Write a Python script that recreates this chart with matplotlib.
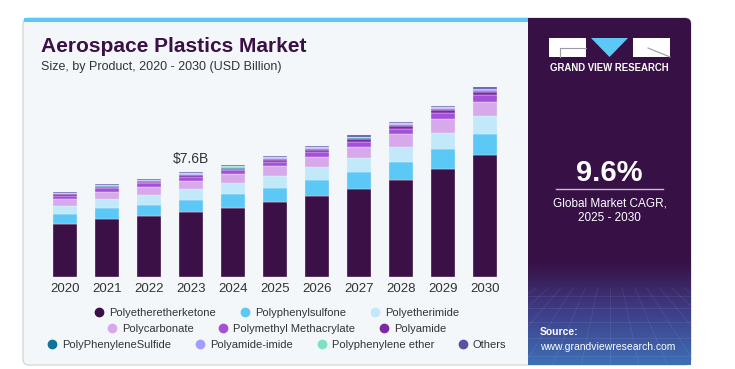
import matplotlib.pyplot as plt
import numpy as np
from matplotlib.patches import FancyBboxPatch, Rectangle, Polygon
from matplotlib.lines import Line2D
from matplotlib.colors import LinearSegmentedColormap

plt.rcParams['font.family'] = ['Liberation Sans', 'DejaVu Sans']

years = ['2020', '2021', '2022', '2023', '2024', '2025', '2026', '2027', '2028', '2029', '2030']

peek = [3.82, 4.20, 4.42, 4.73, 5.02, 5.45, 5.90, 6.41, 7.04, 7.87, 8.82]
ppsu = [0.73, 0.78, 0.84, 0.89, 0.97, 1.04, 1.13, 1.22, 1.33, 1.45, 1.57]
pei = [0.62, 0.66, 0.70, 0.75, 0.80, 0.86, 0.93, 1.00, 1.08, 1.16, 1.26]
pc = [0.51, 0.55, 0.58, 0.62, 0.66, 0.71, 0.77, 0.83, 0.90, 0.97, 1.04]
pmma = [0.22, 0.24, 0.26, 0.27, 0.29, 0.32, 0.34, 0.37, 0.41, 0.45, 0.50]
pa = [0.10, 0.11, 0.11, 0.12, 0.13, 0.14, 0.15, 0.16, 0.18, 0.20, 0.22]
pps = [0.04, 0.05, 0.05, 0.05, 0.06, 0.06, 0.07, 0.07, 0.08, 0.09, 0.10]
pai = [0.04, 0.05, 0.05, 0.06, 0.06, 0.06, 0.07, 0.08, 0.08, 0.09, 0.10]
ppe = [0.03, 0.03, 0.03, 0.03, 0.03, 0.04, 0.04, 0.04, 0.05, 0.05, 0.05]
others = [0.06, 0.06, 0.07, 0.08, 0.08, 0.08, 0.09, 0.10, 0.10, 0.11, 0.13]

labels = ['Polyetheretherketone', 'Polyphenylsulfone', 'Polyetherimide',
          'Polycarbonate', 'Polymethyl Methacrylate', 'Polyamide',
          'PolyPhenyleneSulfide', 'Polyamide-imide', 'Polyphenylene ether', 'Others']
series = [peek, ppsu, pei, pc, pmma, pa, pps, pai, ppe, others]
colors = ['#3a1046', '#5bc8f5', '#c2e9fa', '#d7a9ea', '#a550da', '#7b2aa3',
          '#10739a', '#a39dff', '#7fe0c6', '#5a50a6']

W, H = 735, 369
fig = plt.figure(figsize=(W / 100, H / 100), dpi=100)
fig.patch.set_facecolor('white')

# background / decoration layer in pixel coords
bg = fig.add_axes([0, 0, 1, 1], zorder=0)
bg.axis('off')

dark = '#371145'
bg.add_patch(FancyBboxPatch((23, 18), 668, 347, boxstyle='round,pad=0,rounding_size=6',
                            fc='#f3f7fa', ec='#cfcfcf', lw=0.8))
bg.add_patch(FancyBboxPatch((528, 18), 163, 347, boxstyle='round,pad=0,rounding_size=6',
                            fc=dark, ec='none'))
bg.add_patch(Rectangle((528, 18), 12, 347, fc=dark, ec='none'))
bg.add_patch(Rectangle((24, 18), 504, 3.5, fc='#5bc8f5', ec='none'))

# gradient at bottom of side panel
cmap = LinearSegmentedColormap.from_list('g', [dark, '#3f3f8a', '#3d6fb5'])
grad = np.linspace(0, 1, 100).reshape(-1, 1)
bg.imshow(grad, cmap=cmap, extent=(528, 691, 365, 262), aspect='auto', zorder=1)
clip = Rectangle((528, 262), 163, 103, transform=bg.transData)
for yy in [296, 308, 322, 338, 356]:
    ln, = bg.plot([528, 691], [yy, yy], color='white', alpha=0.08, lw=0.6, zorder=2)
    ln.set_clip_path(clip)
vx, vy, y0 = 610, 230, 288
for xx in np.linspace(380, 840, 17):
    t = (y0 - vy) / (365 - vy)
    ln, = bg.plot([vx + (xx - vx) * t, xx], [y0, 365], color='white', alpha=0.08, lw=0.6, zorder=2)
    ln.set_clip_path(clip)

# logo
bg.add_patch(Rectangle((549, 38), 37, 19, fc='white', ec='none', zorder=4))
bg.plot([560, 586], [48, 48], color='#9a9aa8', lw=0.8, zorder=5)
bg.plot([560, 560], [48, 57], color='#9a9aa8', lw=0.8, zorder=5)
bg.add_patch(Polygon([[591, 38], [628, 38], [609.5, 57]], closed=True, fc='#5bc8f5', ec='none', zorder=4))
bg.add_patch(Rectangle((633, 38), 37, 19, fc='white', ec='none', zorder=4))
bg.plot([648, 670], [48, 57], color='#9a9aa8', lw=0.8, zorder=5)
bg.text(609.5, 68, 'GRAND VIEW RESEARCH', color='white', fontsize=6.9, fontweight='bold',
        ha='center', va='center', zorder=5)

bg.text(609.5, 173, '9.6%', color='white', fontsize=21, fontweight='bold',
        ha='center', va='center', zorder=5)
bg.plot([556, 663], [189, 189], color='#c8bcd0', lw=1, zorder=5)
bg.text(609.5, 203, 'Global Market CAGR,', color='white', fontsize=8.5, ha='center', va='center', zorder=5)
bg.text(609.5, 218, '2025 - 2030', color='white', fontsize=8.5, ha='center', va='center', zorder=5)
bg.text(540, 332, 'Source:', color='white', fontsize=7.5, fontweight='bold', ha='left', va='center', zorder=5)
bg.text(540, 347, 'www.grandviewresearch.com', color='white', fontsize=7.5, ha='left', va='center', zorder=5)

bg.text(41, 47, 'Aerospace Plastics Market', color='#3a1046', fontsize=15, fontweight='bold',
        ha='left', va='center')
bg.text(41, 67, 'Size, by Product, 2020 - 2030 (USD Billion)', color='#333333', fontsize=9,
        ha='left', va='center')

bg.set_xlim(0, W)
bg.set_ylim(H, 0)

# chart
ax = fig.add_axes([44 / W, (H - 277) / H, 462 / W, 197 / H], zorder=2)
ax.patch.set_alpha(0)
x = np.arange(len(years))
bottom = np.zeros(len(years))
for vals, c, lab in zip(series, colors, labels):
    ax.bar(x, vals, bottom=bottom, width=0.57, color=c, edgecolor='#eef0f6', linewidth=0.25, label=lab)
    bottom += np.array(vals)

ax.text(3, bottom[3] + 0.45, '$7.6B', ha='center', va='bottom', fontsize=10, color='#333333')

ax.set_xlim(-0.5, 10.5)
ax.set_ylim(0, 197 / 13.78)
ax.set_xticks(x)
ax.set_xticklabels(years, fontsize=9.5, color='#333333')
ax.tick_params(axis='x', length=0, pad=4)
ax.set_yticks([])
for s in ax.spines.values():
    s.set_visible(False)

handles = [Line2D([], [], marker='o', ls='', color=c, markersize=6) for c in colors]
rows = [(0, 3, 313), (3, 6, 329), (6, 10, 345)]
for a, b, yy in rows:
    leg = fig.legend(handles[a:b], labels[a:b], loc='center', bbox_to_anchor=(277 / W, 1 - yy / H),
                     ncol=b - a, frameon=False, fontsize=8, handlelength=0.8, handletextpad=0.5,
                     columnspacing=2.2, borderpad=0)
    for t in leg.get_texts():
        t.set_color('#333333')

fig.savefig('out.png', dpi=100)
